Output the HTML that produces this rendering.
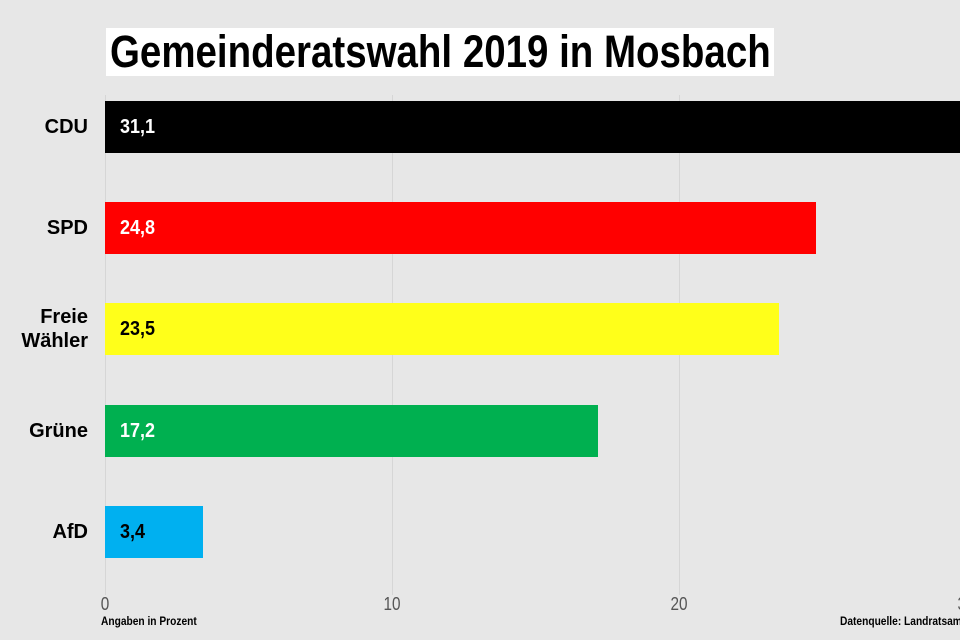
<!DOCTYPE html>
<html><head><meta charset="utf-8"><style>
body{margin:0;width:960px;height:640px;background:#e7e7e7;position:relative;overflow:hidden;font-family:"Liberation Sans",Arial,sans-serif}
.a{position:absolute}
.g{position:absolute;top:95px;height:500px;width:1px;background:#d6d6d6}
.bar{position:absolute;left:105px;height:52px}
.v{position:absolute;left:120px;font-weight:bold;font-size:20px;line-height:52px;transform:scaleX(0.9);transform-origin:left}
.l{position:absolute;right:872px;font-weight:bold;font-size:20px;text-align:right;line-height:24px}
.t{position:absolute;top:594px;font-size:18px;color:#555;width:40px;text-align:center;transform:scaleX(0.85)}
</style></head><body>
<div class="g" style="left:105px"></div>
<div class="g" style="left:392px"></div>
<div class="g" style="left:679px"></div>
<div class="a" style="left:106px;top:28px;width:668px;height:48px;background:#fff"></div>
<div class="a" style="left:110px;top:26px;font-size:45px;font-weight:bold;line-height:52px;white-space:nowrap;transform:scaleX(0.855);transform-origin:left">Gemeinderatswahl 2019 in Mosbach</div>

<div class="bar" style="top:101px;width:860px;background:#000"></div><div class="v" style="top:101px;color:#fff">31,1</div>
<div class="bar" style="top:202px;width:711px;background:#ff0000"></div><div class="v" style="top:202px;color:#fff">24,8</div>
<div class="bar" style="top:303px;width:674px;background:#ffff1a"></div><div class="v" style="top:303px;color:#000">23,5</div>
<div class="bar" style="top:405px;width:493px;background:#00b050"></div><div class="v" style="top:405px;color:#fff">17,2</div>
<div class="bar" style="top:506px;width:98px;background:#00b0f0"></div><div class="v" style="top:506px;color:#000">3,4</div>

<div class="l" style="top:115px">CDU</div>
<div class="l" style="top:216px">SPD</div>
<div class="l" style="top:305px">Freie<br>Wähler</div>
<div class="l" style="top:419px">Grüne</div>
<div class="l" style="top:520px">AfD</div>

<div class="t" style="left:85px">0</div>
<div class="t" style="left:372px">10</div>
<div class="t" style="left:659px">20</div>
<div class="t" style="left:946px">30</div>
<div class="a" style="left:101px;top:614px;font-size:12px;font-weight:bold;transform:scaleX(0.85);transform-origin:left">Angaben in Prozent</div>
<div class="a" style="left:840px;top:614px;font-size:12px;font-weight:bold;white-space:nowrap;transform:scaleX(0.85);transform-origin:left">Datenquelle: Landratsamt</div>
</body></html>
